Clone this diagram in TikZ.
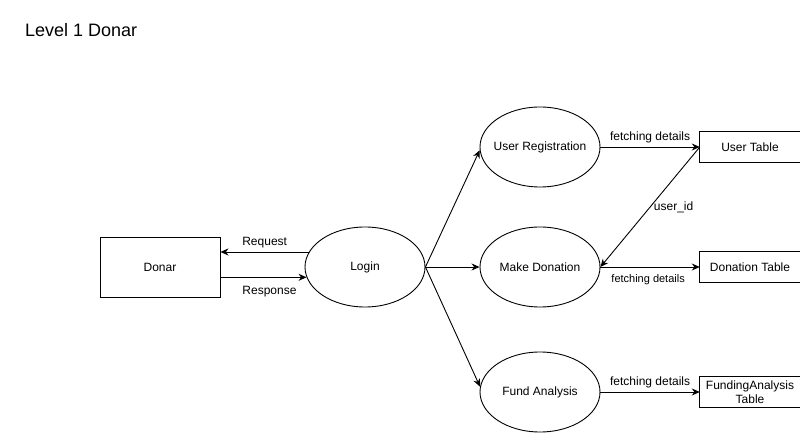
\documentclass[tikz,border=0pt]{standalone}
\usepackage{fontspec}
\setmainfont{Liberation Sans}
\usetikzlibrary{shapes,arrows,positioning,calc,arrows.meta}

\tikzset{
  proc/.style={ellipse, draw, line width=0.9pt, minimum width=120pt, minimum height=80pt, inner sep=-8pt, font=\fontsize{12}{14}\selectfont},
  ent/.style={rectangle, draw, line width=0.9pt, minimum width=120pt, minimum height=60pt, font=\fontsize{12}{14}\selectfont},
  store/.style={minimum width=100pt, minimum height=30pt, inner sep=0pt, align=center, font=\fontsize{12}{14}\selectfont},
  flow/.style={-{Stealth[length=8pt,width=7pt]}, line width=0.9pt},
  lbl/.style={font=\fontsize{12}{14}\selectfont}
}

\begin{document}
\begin{tikzpicture}[x=1pt,y=-1pt]
    \useasboundingbox (0,0) rectangle (811,443);
    \node[anchor=west, inner sep=0pt, font=\fontsize{18}{21}\selectfont] (title) at (25,30) {Level 1 Donar};

    \node[ent] (dn) at (160,267) {Donar};
    \node[proc] (lg) at (365,267) {Login};
    \node[proc] (ur) at (540,147) {User Registration};
    \node[proc] (md) at (540,267) {Make Donation};
    \node[proc] (fa) at (540,392) {Fund Analysis};
    \node[store] (ut) at (750,147) {User Table};
    \node[store] (dt) at (750,267) {Donation Table};
    \node[store] (ft) at (750,392) {FundingAnalysis\\Table};

    % open-ended data stores
    \foreach \s in {ut,dt,ft} {
        \draw[line width=0.9pt] (\s.north east) -- (\s.north west) -- (\s.south west) -- (\s.south east);
    }

    \draw[flow] (lg.165) -- (lg.165 -| dn.east) node[lbl, midway, above] {Request};
    \draw[flow] (dn.east |- lg.190) -- (lg.190) node[lbl, midway, below=5pt, xshift=6pt] {Response};

    \draw[flow] (lg.east) -- (ur.183);
    \draw[flow] (lg.east) -- (md.west);
    \draw[flow] (lg.east) -- (fa.175);

    \draw[flow] (ur.east) -- (ut.west) node[lbl, midway, above] {fetching details};
    \draw[flow] (ut.west) -- (md.east) node[lbl, midway, right=0pt] {user\_id};
    \draw[flow] (md.east) -- (dt.west) node[midway, below=4pt, xshift=-2pt, font=\fontsize{11}{13}\selectfont] {fetching details};
    \draw[flow] (fa.east) -- (ft.west) node[lbl, midway, above] {fetching details};
\end{tikzpicture}
\end{document}
